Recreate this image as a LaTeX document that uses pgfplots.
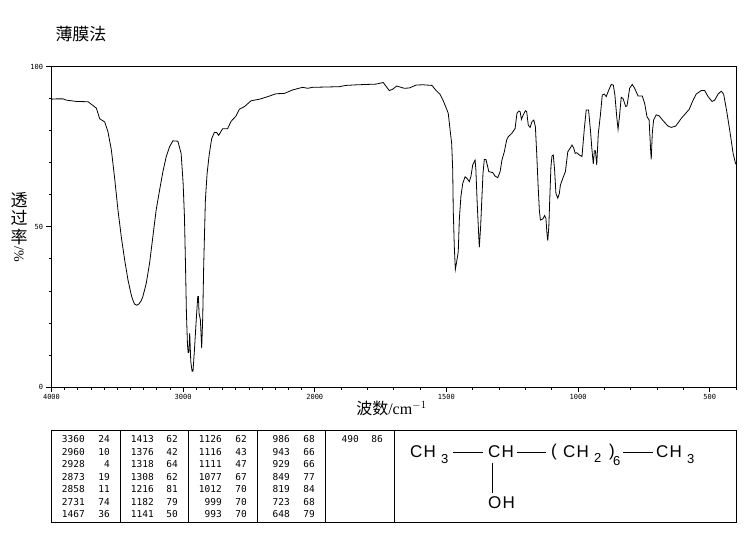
\documentclass[border=0pt]{standalone}
\usepackage{fontspec}
\usepackage{pgfplots}
\usepackage{pgfplotstable}
\pgfplotsset{compat=1.18}
\setmainfont{Liberation Serif}
\newfontfamily\cjk{Noto Sans CJK SC}
\newfontfamily\mono{DejaVu Sans Mono}
\newfontfamily\fml[LetterSpace=7]{Liberation Sans}

% wavenumber / %T
\pgfplotstableread{
w t
4000 89.8
3962 89.9
3912 89.9
3886 89.5
3811 89.1
3722 89
3697 88.2
3659 87
3634 83.7
3596 82.7
3571 79.6
3545 73.9
3520 65
3495 55.2
3470 46.9
3444 39.6
3419 33.4
3394 28.7
3380 26.9
3369 25.9
3352 25.5
3336 25.9
3320 26.8
3306 28.2
3280 32.4
3255 38.6
3230 46.9
3205 55.2
3179 61.4
3154 67.1
3129 71.8
3104 74.9
3078 76.8
3040 76.7
3015 72.8
3000 63.5
2990 53.1
2982 38
2975 23
2967 13.2
2962 10.8
2957 10.8
2950 16.8
2942 8
2932 4.9
2925 4.9
2914 11.6
2902 19.9
2889 28.2
2884 28.2
2879 23
2869 21
2859 12.1
2851 22
2844 37.5
2831 58.3
2818 66.6
2801 72.8
2783 77.5
2763 79.4
2745 79.4
2730 78.5
2700 80.6
2662 80.6
2636 82.9
2599 84.5
2572 86.7
2534 87.5
2484 89.3
2420 89.8
2357 90.6
2294 91.5
2231 91.6
2168 92.7
2092 93.5
2054 93.2
2016 93.5
1907 93.7
1882 94.1
1837 94.3
1768 94.5
1740 95
1730 93.9
1717 92.5
1704 92.9
1689 93.9
1660 93.2
1641 93.3
1615 94.2
1590 94.3
1555 94.1
1539 92.5
1524 91.3
1512 89.3
1499 86.7
1493 85.4
1486 80.2
1480 76
1476 67.7
1474 55.2
1470 43.8
1466 36.7
1461 39.1
1455 42.2
1451 52.1
1445 59.4
1438 63.5
1429 65.6
1422 65.1
1413 64.1
1407 65.6
1400 69.3
1391 70.8
1388 67.7
1383 57.3
1377 46.9
1375 43.6
1370 50
1365 59.4
1361 66.7
1356 71
1350 71
1343 68.7
1339 67.2
1324 66.9
1315 65.8
1305 65.3
1296 67.2
1289 70.8
1280 73.4
1271 77.1
1265 78.1
1252 79.1
1239 80.7
1232 85.4
1225 86.1
1220 85.9
1215 83.5
1208 84.9
1200 86.2
1195 85.9
1189 81.7
1182 81
1175 82.8
1168 83.3
1162 81.2
1157 72.9
1152 63.5
1147 55.2
1143 52.1
1134 52.4
1127 53.5
1122 52.6
1118 47.9
1115 45.7
1111 50
1108 57.3
1103 68.7
1099 72.1
1094 72.4
1089 67.7
1084 60.4
1077 58.9
1071 60.4
1067 63
1058 65.1
1048 67.2
1039 73.4
1030 74.5
1023 75.5
1016 74.5
1011 72.9
1005 73.1
995 72.4
985 71.9
976 80.7
969 86.4
960 86.4
953 80.2
947 73.9
942 69.6
938 73.7
934 73.7
929 69.3
923 79.1
915 84.9
908 91.1
900 91.4
893 90.6
883 92.7
874 94.4
866 94.2
860 91.1
853 84.3
848 80.4
842 84.9
836 90.4
829 90
819 87.5
814 87.7
804 93.2
794 94.4
785 93.2
772 90.8
756 90.8
747 88.5
738 84.3
730 83.3
725 75
722 71
718 79.1
713 83.3
703 84.9
692 84.6
677 83.1
658 81.4
646 81
629 81.4
608 83.8
578 86.6
563 89.5
551 91.4
532 92.5
519 92.5
506 90.6
491 89.1
481 89.5
468 91.4
456 92.3
447 91.4
436 86.4
424 80.2
411 72.9
402 69.8
400 69.5
}\spectrum

\begin{document}
\begin{tikzpicture}
\path[use as bounding box] (0,0) rectangle (748pt,539pt);
\begin{axis}[
  at={(51.5pt,152pt)}, anchor=south west,
  scale only axis,
  width=684.5pt, height=320.5pt,
  xmin=0, xmax=5200,
  ymin=0, ymax=100,
  axis line style={line width=0.8pt},
  tick align=outside,
  tick style={black, line width=0.7pt},
  major tick length=5pt,
  minor tick length=2.5pt,
  xtick={0,1000,2000,3000,4000,5000},
  xticklabels={4000,3000,2000,1500,1000,500},
  minor xtick={100,200,300,400,500,600,700,800,900,1100,1200,1300,1400,1500,1600,1700,1800,1900,2200,2400,2600,2800,3200,3400,3600,3800,4200,4400,4600,4800,5200},
  ytick={0,50,100},
  minor ytick={10,20,30,40,60,70,80,90},
  tick label style={font=\fontsize{7}{8}\mono},
  /pgf/number format/assume math mode=true,
  xtick pos=bottom, ytick pos=left,
  xticklabel style={yshift=1pt},
  xlabel={{\cjk 波数}/cm$^{-1}$},
  xlabel style={at={(axis description cs:0.4967,-0.0325)},anchor=north,font=\fontsize{16}{18}\selectfont},
]
\addplot[black, line width=0.8pt, sharp plot, no marks]
  table[x expr={\thisrow{w}>=2000 ? 4000-\thisrow{w} : 6000-2*\thisrow{w}}, y=t] {\spectrum};
\end{axis}

\begin{scope}[shift={(0,539pt)},x=1pt,y=-1pt]
  \node[font=\fontsize{17}{18}\cjk] at (81,34) {薄膜法};
  \node[font=\fontsize{17}{18}\cjk] at (19,200) {透};
  \node[font=\fontsize{17}{18}\cjk] at (19,218) {过};
  \node[font=\fontsize{17}{18}\cjk] at (19,237) {率};
  \node[font=\fontsize{14}{16}\selectfont,rotate=-90] at (19,254) {/\%};

  % peak table
  \draw[line width=0.8pt] (51,430.5) rectangle (736,522.5);
  \foreach \x in {120,188,257,325,394} \draw[line width=0.8pt] (\x,430.5) -- (\x,522.5);
  \foreach \y/\a/\b/\c/\d/\e/\f/\g/\h in {
    439.3/3360/24/1413/62/1126/62/986/68,
    451.7/2960/10/1376/42/1116/43/943/66,
    464.3/2928/4/1318/64/1111/47/929/66,
    476.7/2873/19/1308/62/1077/67/849/77,
    489.0/2858/11/1216/81/1012/70/819/84,
    501.7/2731/74/1182/79/999/70/723/68,
    514.3/1467/36/1141/50/993/70/648/79} {
    \foreach \x/\t in {85/\a,110/\b,154/\c,178/\d,222/\e,247/\f,290/\g,315/\h}
      \node[anchor=east,inner sep=0pt,font=\fontsize{9.5}{10}\mono] at (\x,\y) {\t};
  }
  \node[anchor=east,inner sep=0pt,font=\fontsize{9.5}{10}\mono] at (359,439.3) {490};
  \node[anchor=east,inner sep=0pt,font=\fontsize{9.5}{10}\mono] at (383,439.3) {86};

  % structure
  \begin{scope}[every node/.style={anchor=west,inner sep=0pt,font=\fontsize{17}{18}\fml}]
    \node at (410,452) {CH};
    \node at (488,452) {CH};
    \node at (551,452) {(};
    \node at (563,452) {CH};
    \node at (609,452) {)};
    \node at (656,452) {CH};
    \node at (488,503) {OH};
  \end{scope}
  \begin{scope}[every node/.style={anchor=west,inner sep=0pt,font=\fontsize{13}{14}\fml}]
    \node at (441,459) {3};
    \node at (594,458) {2};
    \node at (613,461) {6};
    \node at (687,459) {3};
  \end{scope}
  \draw[line width=0.7pt] (453,452) -- (483,452);
  \draw[line width=0.7pt] (517,452) -- (546,452);
  \draw[line width=0.7pt] (623,452) -- (653,452);
  \draw[line width=0.7pt] (492,463) -- (492,493);
\end{scope}
\end{tikzpicture}
\end{document}
